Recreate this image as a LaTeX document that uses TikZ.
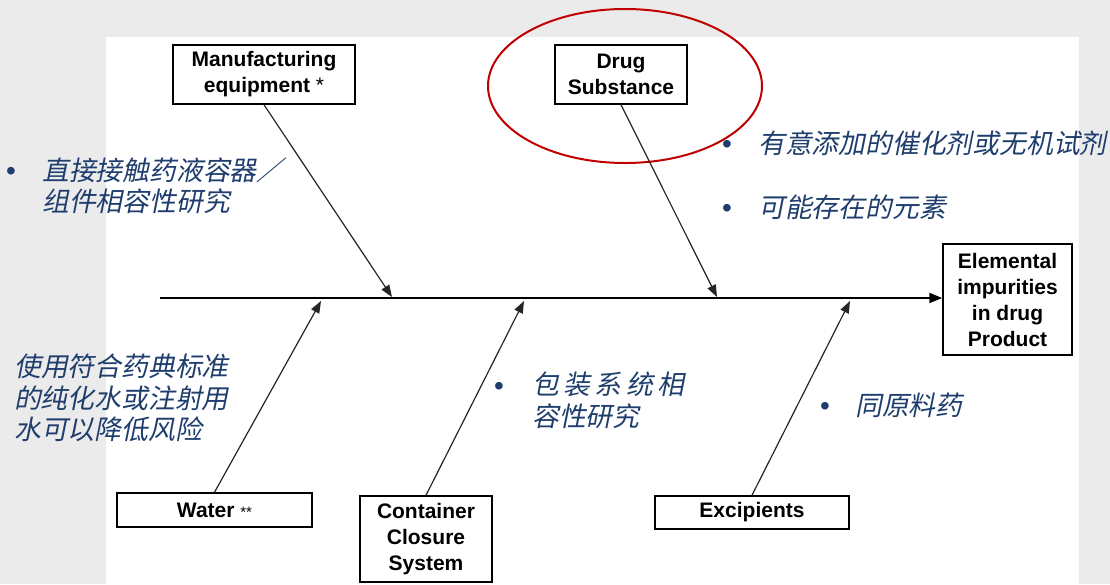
\documentclass[tikz,border=0pt]{standalone}
\usepackage{fontspec}
\setmainfont{Liberation Sans}
\newfontfamily\cjk[FakeSlant=0.2]{Noto Sans CJK SC}
\usetikzlibrary{arrows.meta}
\definecolor{bgray}{RGB}{235,235,235}
\definecolor{txtblue}{RGB}{31,62,110}
\definecolor{ringred}{RGB}{192,0,0}
\tikzset{
  box/.style={draw=black, line width=1.5pt, fill=white, inner sep=0pt, align=center,
    font=\bfseries\fontsize{21}{26}\selectfont},
  spine/.style={line width=2pt, -{Triangle[length=13pt,width=10pt]}},
  bone/.style={line width=1.2pt, draw=black!85, -{Triangle[length=12pt,width=9pt]}},
  note/.style={inner sep=0pt, anchor=west, align=left, text=txtblue,
    font=\cjk\fontsize{26.8}{31.5}\selectfont},
  dot/.style={inner sep=0pt, text=txtblue, font=\fontsize{28}{28}\selectfont},
  ring/.style={draw=ringred, line width=2pt}
}
\begin{document}
\begin{tikzpicture}[x=1pt,y=-1pt]
\useasboundingbox (0,0) rectangle (1110,584);
\fill[bgray] (0,0) rectangle (1110,584);
\fill[white] (106,37) rectangle (1079,584);

% boxes
\node[box, minimum width=182pt, minimum height=59pt] (mfg) at (264,74.5) {Manufacturing\\equipment {\mdseries *}};
\node[box, minimum width=132pt, minimum height=59pt] (drug) at (621,74.5) {Drug\\Substance};
\node[box, minimum width=129pt, minimum height=111pt] (elem) at (1007.5,299.5) {Elemental\\impurities\\in drug\\Product};
\node[box, minimum width=195pt, minimum height=34pt] (water) at (214.5,510) {Water {\mdseries\fontsize{15}{15}\selectfont **}};
\node[box, minimum width=132pt, minimum height=86pt] (ccs) at (426,539) {Container\\Closure\\System};
\node[box, minimum width=194pt, minimum height=33pt] (exc) at (752,512.5) {Excipients};

% red ring
\draw[ring] (625,86) ellipse [x radius=137pt, y radius=77pt];

% spine and bones
\coordinate (sL) at (160,298);
\coordinate (pM) at (392,297);
\coordinate (pD) at (717,297);
\coordinate (pW) at (321,301);
\coordinate (pC) at (524,301);
\coordinate (pE) at (850,301);
\draw[spine] (sL) -- (sL -| elem.west);
\draw[bone] (mfg.south) -- (pM);
\draw[bone] (drug.south) -- (pD);
\draw[bone] (water.north) -- (pW);
\draw[bone] (ccs.north) -- (pC);
\draw[bone] (exc.north) -- (pE);

% notes
\node[dot] (b1) at (11,174) {•};
\node[note] (t1) at (42,186) {直接接触药液容器／\\组件相容性研究};
\node[dot] (b2) at (727,147) {•};
\node[note] (t2) at (758,143) {有意添加的催化剂或无机试剂};
\node[dot] (b3) at (727,211) {•};
\node[note] (t3) at (758,207) {可能存在的元素};
\node[note] (t4) at (14,398) {使用符合药典标准\\的纯化水或注射用\\水可以降低风险};
\node[dot] (b5) at (499,389) {•};
\node[note] (t5) at (532,400.5) {包\hspace{4.5pt}装\hspace{4.5pt}系\hspace{4.5pt}统\hspace{4.5pt}相\\容性研究};
\node[dot] (b6) at (825,409) {•};
\node[note] (t6) at (855,405) {同原料药};
\end{tikzpicture}
\end{document}
